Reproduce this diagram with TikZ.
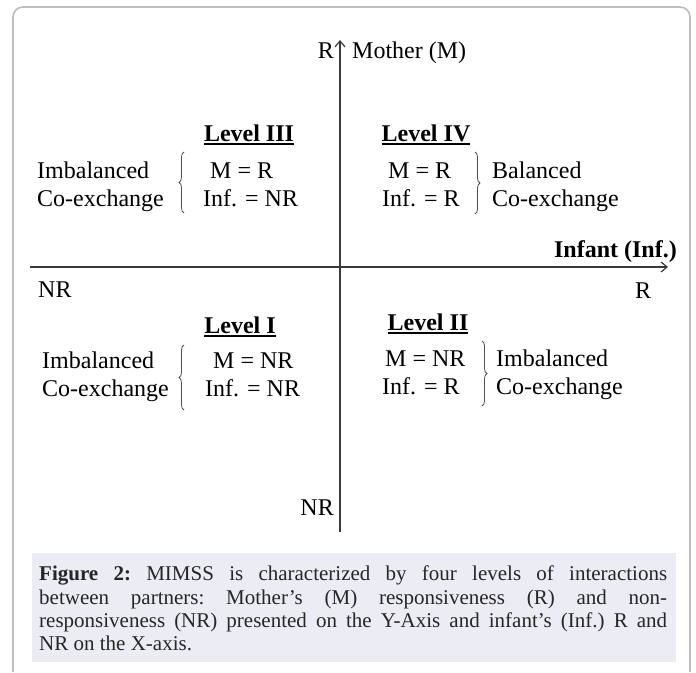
\documentclass[tikz,border=0pt]{standalone}
\usepackage{fontspec}
\setmainfont{Liberation Serif}
\usetikzlibrary{arrows.meta,decorations.pathreplacing}
\definecolor{axisgray}{HTML}{3A3A3A}
\definecolor{bracegray}{HTML}{505050}
\definecolor{framegray}{HTML}{BDBDBD}
\definecolor{capfill}{HTML}{ECECF4}
\definecolor{capgray}{HTML}{262626}
\newcommand{\lvlul}[1]{\setbox0=\hbox{#1}\rlap{\rule[-3.5pt]{\wd0}{1.7pt}}\box0}
\tikzset{
  lbl/.style={inner sep=0pt, font=\fontsize{24}{28}\selectfont},
  hdr/.style={inner sep=0pt, font=\fontsize{24}{28}\selectfont\bfseries},
  axis/.style={draw=axisgray, line width=1.2pt, -{Straight Barb[length=6pt,width=10pt]}},
  brc/.style={draw=bracegray, line width=0.8pt, decorate, decoration={brace, amplitude=5pt}}
}

\begin{document}
\begin{tikzpicture}[x=1pt, y=-1pt]
  \useasboundingbox (0,0) rectangle (696,672);
  % frame
  \draw[framegray, line width=1.6pt, rounded corners=10pt] (13,672) -- (13,7) -- (690,7) -- (690,672);

  % axes
  \coordinate (ybot) at (340,532);
  \coordinate (ytop) at (340,40);
  \coordinate (xleft) at (30,267);
  \coordinate (xright) at (668,267);
  \draw[axis] (ybot) -- (ytop);
  \draw[axis] (xleft) -- (xright);
  \node[lbl, anchor=base] (ytopR) at (326,58) {R};
  \node[lbl, anchor=base west] (ylab) at (352,58) {Mother (M)};
  \node[hdr, anchor=base east] (xlab) at (677,257) {Infant (Inf.)};
  \node[lbl, anchor=base west] (xNR) at (38,297) {NR};
  \node[lbl, anchor=base] (xR) at (643,298) {R};
  \node[lbl, anchor=base east] (yNR) at (334,515) {NR};

  % level III
  \node[hdr, anchor=base] (lvIII) at (249,141) {\lvlul{Level III}};
  \node[lbl, anchor=base west] (imbIII) at (37,178) {Imbalanced};
  \node[lbl, anchor=base west] (coIII) at (37,206) {Co-exchange};
  \node[lbl, anchor=base west] (mIII) at (210,178) {M = R};
  \node[lbl, anchor=base west] (infIII) at (203,206) {Inf. = NR};
  \draw[brc] (184,213) -- (184,152);

  % level IV
  \node[hdr, anchor=base] (lvIV) at (426,141) {\lvlul{Level IV}};
  \node[lbl, anchor=base west] (mIV) at (388,178) {M = R};
  \node[lbl, anchor=base west] (infIV) at (382,206) {Inf. = R};
  \node[lbl, anchor=base west] (balIV) at (492,178) {Balanced};
  \node[lbl, anchor=base west] (coIV) at (492,206) {Co-exchange};
  \draw[brc] (475,152) -- (475,214);

  % level I
  \node[hdr, anchor=base] (lvI) at (240,333) {\lvlul{Level I}};
  \node[lbl, anchor=base west] (imbI) at (42,368) {Imbalanced};
  \node[lbl, anchor=base west] (coI) at (42,396) {Co-exchange};
  \node[lbl, anchor=base west] (mI) at (213,368) {M = NR};
  \node[lbl, anchor=base west] (infI) at (205,396) {Inf. = NR};
  \draw[brc] (184,410) -- (184,345);

  % level II
  \node[hdr, anchor=base] (lvII) at (428,330) {\lvlul{Level II}};
  \node[lbl, anchor=base west] (mII) at (385,366) {M = NR};
  \node[lbl, anchor=base west] (infII) at (382,394) {Inf. = R};
  \node[lbl, anchor=base west] (imbII) at (496,366) {Imbalanced};
  \node[lbl, anchor=base west] (coII) at (496,394) {Co-exchange};
  \draw[brc] (482,341) -- (482,406);

  % caption
  \fill[capfill] (32,553) rectangle (676,662);
  \node[anchor=north west, inner sep=0pt, text width=628pt, align=justify,
        font=\fontsize{21}{23.3}\selectfont, text=capgray] (cap) at (39,566)
    {\frenchspacing\tolerance=10000 \textbf{Figure 2:} MIMSS is characterized by four levels of interactions\linebreak
     between partners: Mother’s (M) responsiveness (R) and non-\linebreak
     responsiveness (NR) presented on the Y-Axis and infant’s (Inf.) R and\linebreak
     NR on the X-axis.};
\end{tikzpicture}
\end{document}
